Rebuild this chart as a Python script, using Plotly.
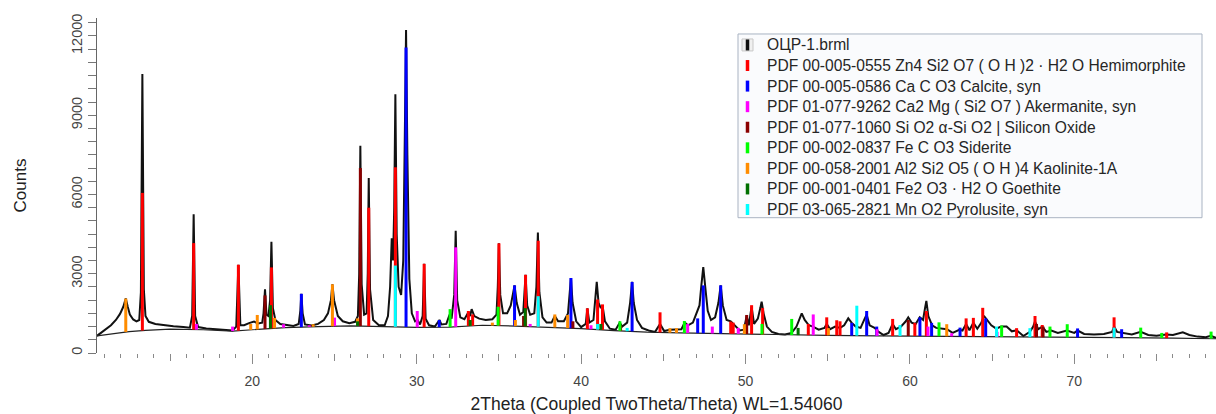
import numpy as np
import plotly.graph_objects as go

# ---------------- measured pattern (2Theta, Counts) ----------------
two_theta = [10.55, 10.8, 11.1, 11.4, 11.7, 11.95, 12.15, 12.3, 12.42, 12.55, 12.75, 12.95, 13.12, 13.22, 13.31, 13.4, 13.5,
             13.7, 14.1, 14.6, 15.2, 15.8, 16.2, 16.34, 16.43, 16.52, 16.7, 17.2, 17.8, 18.3, 18.8, 19.02, 19.15, 19.27,
             19.5, 19.8, 20.1, 20.35, 20.6, 20.68, 20.77, 20.86, 20.98, 21.08, 21.16, 21.25, 21.4, 21.7, 22.1, 22.5,
             22.82, 22.92, 22.98, 23.06, 23.2, 23.6, 24.0, 24.35, 24.6, 24.78, 24.87, 24.97, 25.2, 25.5, 25.9, 26.25,
             26.42, 26.5, 26.57, 26.65, 26.8, 26.95, 27.02, 27.08, 27.16, 27.35, 27.7, 28.05, 28.25, 28.38, 28.48,
             28.56, 28.63, 28.70, 28.78, 28.9, 29.05, 29.18, 29.27, 29.35, 29.43, 29.55, 29.7, 29.9, 30.05, 30.2,
             30.36, 30.45, 30.54, 30.75, 31.1, 31.3, 31.38, 31.5, 31.8, 32.0, 32.12, 32.28, 32.37, 32.46, 32.65, 32.9,
             33.15, 33.25, 33.34, 33.5, 33.8, 34.2, 34.6, 34.85, 34.93, 35.0, 35.08, 35.25, 35.5, 35.72, 35.85, 35.95,
             36.08, 36.28, 36.48, 36.56, 36.62, 36.72, 36.9, 37.15, 37.28, 37.37, 37.46, 37.65, 37.9, 38.2, 38.4,
             38.6, 38.95, 39.2, 39.3, 39.38, 39.48, 39.7, 40.0, 40.28, 40.38, 40.5, 40.75, 40.87, 40.95, 41.06, 41.2,
             41.3, 41.45, 41.75, 42.1, 42.35, 42.5, 42.8, 42.98, 43.1, 43.2, 43.4, 43.7, 44.1, 44.5, 44.8, 45.05,
             45.4, 45.8, 46.1, 46.3, 46.5, 46.8, 47.0, 47.2, 47.32, 47.43, 47.55, 47.7, 47.9, 48.15, 48.35, 48.49,
             48.62, 48.85, 49.1, 49.35, 49.65, 49.9, 50.07, 50.2, 50.37, 50.52, 50.75, 50.9, 50.98, 51.1, 51.3, 51.6,
             52.0, 52.4, 52.8, 53.1, 53.3, 53.42, 53.6, 53.85, 54.1, 54.45, 54.8, 54.94, 55.15, 55.45, 55.75, 56.0,
             56.25, 56.45, 56.7, 57.0, 57.25, 57.37, 57.55, 57.85, 58.1, 58.4, 58.7, 58.95, 59.15, 59.45, 59.75, 59.9,
             60.1, 60.35, 60.6, 60.8, 60.92, 61.0, 61.12, 61.35, 61.6, 61.9, 62.25, 62.6, 63.0, 63.2, 63.42, 63.62,
             63.86, 64.1, 64.35, 64.5, 64.7, 64.95, 65.25, 65.55, 65.88, 66.2, 66.5, 66.9, 67.3, 67.5, 67.61, 67.8,
             68.05, 68.3, 68.6, 69.0, 69.55, 70.0, 70.2, 70.6, 71.2, 71.8, 72.3, 72.42, 72.6, 73.0, 73.5, 74.04, 74.5,
             75.0, 75.6, 76.0, 76.6, 77.0, 77.5, 78.0, 78.3, 78.62]
counts = [650, 760, 900, 1050, 1250, 1480, 1750, 2060, 1750, 1450, 1270, 1200, 1250, 2300, 10560, 2400, 1400,
          1180, 1100, 1050, 1010, 980, 960, 1400, 5250, 1400, 980, 930, 890, 860, 850, 1000, 3340, 1050,
          1050, 1130, 1190, 1120, 1150, 1500, 2410, 1450, 1400, 2000, 4210, 1700, 1250, 1100, 1050, 1020,
          1100, 1600, 2240, 1500, 1080, 1040, 1100, 1250, 1500, 2000, 2600, 2000, 1400, 1200, 1130, 1180,
          1400, 3000, 7840, 2600, 1450, 1500, 3000, 6625, 2400, 1250, 1050, 1050, 1400, 2500, 4340,
          3500, 5500, 9790, 4500, 2500, 2200, 3500, 8000, 12230, 7500, 2800, 1500, 1200, 1250, 1080,
          1400, 3375, 1300, 1050, 1000, 1150, 1250, 1080, 1100, 1450, 1300, 2200, 4625, 2000, 1350, 1280,
          1550, 1400, 1660, 1400, 1300, 1250, 1280, 1450, 2500, 4150, 2200, 1500, 1500, 1800, 2300, 2560,
          1900, 1450, 1550, 2500, 2960, 1800, 1450, 1500, 2500, 4560, 2300, 1350, 1150, 1150, 1400,
          1200, 1200, 1500, 2300, 2840, 1900, 1200, 980, 1100, 1690, 1150, 1250, 2000, 2690, 1900, 1700,
          1800, 1200, 920, 880, 1150, 1000, 1150, 1900, 2690, 1900, 1250, 950, 850, 800, 1100, 830,
          880, 880, 900, 1150, 1050, 1150, 1450, 1800, 2600, 3250, 2500, 1600, 1250, 1350, 1900, 2560,
          1800, 1250, 1200, 1050, 850, 880, 1400, 1050, 1750, 1100, 1300, 1700, 1940, 1500, 1000, 800,
          720, 700, 760, 1000, 1300, 1500, 1250, 1050, 1000, 880, 950, 1100, 900, 1000, 950, 1050,
          1310, 1150, 1000, 950, 1300, 1450, 1050, 950, 800, 680, 760, 1100, 900, 1000, 1200, 1350,
          1150, 1100, 1350, 1250, 1700, 1975, 1400, 1050, 950, 930, 900, 760, 880, 850, 1100, 860,
          1150, 920, 1150, 1410, 1250, 1050, 920, 1000, 1000, 820, 860, 640, 800, 1000, 1200, 900,
          1000, 800, 850, 760, 850, 760, 850, 720, 700, 720, 800, 1000, 800, 760, 700, 800, 680,
          650, 700, 680, 780, 680, 620, 600, 650, 570]

# ---------------- fitted background ----------------
bg_theta = [10.55, 11.5, 12.5, 13.5, 15.0, 17.0, 18.8, 20.0, 22.0, 24.0, 26.0, 28.0, 30.0, 32.0, 34.0, 36.0,
            38.0, 40.0, 42.0, 44.0, 46.0, 48.0, 50.0, 52.0, 55.0, 58.0, 61.0, 64.0, 67.0, 70.0, 73.0, 76.0, 78.62]
bg_counts = [650, 740, 810, 860, 900, 880, 830, 880, 960, 1000, 1030, 1000, 970, 980, 1050, 1020,
             980, 920, 850, 790, 760, 740, 720, 680, 670, 650, 640, 620, 600, 590, 580, 560, 540]

# ---------------- legend labels ----------------
sample_label = "ОЦР-1.brml"
phase_labels = [
    "PDF 00-005-0555 Zn4 Si2 O7 ( O H )2 · H2 O Hemimorphite",
    "PDF 00-005-0586 Ca C O3 Calcite, syn",
    "PDF 01-077-9262 Ca2 Mg ( Si2 O7 ) Akermanite, syn",
    "PDF 01-077-1060 Si O2 α-Si O2 | Silicon Oxide",
    "PDF 00-002-0837 Fe C O3 Siderite",
    "PDF 00-058-2001 Al2 Si2 O5 ( O H )4 Kaolinite-1A",
    "PDF 00-001-0401 Fe2 O3 · H2 O Goethite",
    "PDF 03-065-2821 Mn O2 Pyrolusite, syn",
]

# ---------------- stick patterns (position, top counts) ----------------
hem_pos = [13.31, 16.43, 19.15, 21.16, 27.08, 28.70, 30.45, 33.14, 33.40, 35.00, 36.62, 37.39, 40.38, 41.00,
           41.30, 44.80, 49.10, 49.25, 50.37, 51.04, 53.82, 54.94, 55.55, 55.75, 58.95, 60.30, 61.00, 63.42,
           63.86, 64.43, 66.49, 67.61, 68.05, 72.42, 75.62]
hem_int = [6060, 4160, 3340, 3240, 5500, 7030, 3375, 1590, 1460, 4150, 2960, 4250, 1690, 2025,
           1840, 1540, 1190, 1150, 1810, 1700, 1100, 1350, 1240, 1200, 1290, 1140, 1590, 1310,
           1330, 1710, 940, 1400, 1060, 1350, 780]
cal_pos = [22.98, 29.35, 31.37, 35.95, 39.38, 43.10, 47.09, 47.43, 48.49, 56.46, 57.37, 57.98, 60.61,
           61.32, 63.05, 64.61, 70.20, 72.88]
cal_int = [2240, 11560, 1250, 2560, 2840, 2690, 1310, 2560, 2560, 1140, 1590, 1000, 1350,
           1140, 960, 1310, 930, 900]
ake_pos = [16.60, 18.80, 21.90, 23.46, 25.00, 30.03, 32.37, 36.90, 40.60, 46.48, 47.98, 49.56, 54.12,
           58.00, 61.10, 62.54, 65.30]
ake_int = [1100, 1000, 1090, 1050, 1340, 1590, 4000, 1100, 1050, 1100, 1000, 950, 1460,
           900, 1000, 750, 800]
qtz_pos = [20.77, 26.57, 36.50, 39.50, 42.40, 50.07, 59.90, 67.70, 68.10]
qtz_int = [2180, 7000, 1400, 1200, 1050, 1440, 1250, 1100, 1000]
sid_pos = [32.03, 34.95, 42.36, 46.28, 51.00, 52.81, 61.77, 65.58, 68.52, 69.57, 74.04, 75.32, 78.32]
sid_int = [1660, 1750, 1200, 1210, 1100, 1290, 1160, 1040, 1000, 1090, 960, 760, 810]
kao_pos = [12.30, 19.90, 20.30, 21.35, 23.70, 24.87, 26.40, 34.60, 36.00, 38.40, 39.18, 45.40, 45.80,
           49.93, 55.04, 62.24]
kao_int = [2060, 1100, 1440, 1330, 1090, 2600, 1310, 1150, 1250, 1460, 1440, 940, 940,
           1090, 940, 1090]
goe_pos = [21.10, 26.40, 33.25, 36.60, 41.20, 53.20]
goe_int = [1810, 1200, 1250, 1700, 1100, 950]
pyr_pos = [28.70, 37.39, 41.00, 42.80, 56.77, 59.40, 65.27, 67.30, 72.42]
pyr_int = [3310, 2150, 1100, 950, 1790, 1060, 1000, 940, 960]

y_tick_vals = [0, 3000, 6000, 9000, 12000]
y_tick_text = ["0", "3000", "6000", "9000", "12000"]
x_label_vals = [20, 30, 40, 50, 60, 70]

# ---------------- styling ----------------
phase_colors = ["#ff0000", "#0000ff", "#ff00ff", "#8b0000", "#00ff00", "#ff8c00", "#007000", "#00ffff"]
phase_data = [(hem_pos, hem_int), (cal_pos, cal_int), (ake_pos, ake_int), (qtz_pos, qtz_int),
              (sid_pos, sid_int), (kao_pos, kao_int), (goe_pos, goe_int), (pyr_pos, pyr_int)]

FONT = "Liberation Sans, Arial, sans-serif"
X_RANGE = [10.55, 78.62]
Y_RANGE = [0, 12680]

fig = go.Figure()
fig.add_trace(go.Scatter(x=two_theta, y=counts, mode="lines", name=sample_label,
                         line=dict(color="#111111", width=2), showlegend=False))
fig.add_trace(go.Scatter(x=bg_theta, y=bg_counts, mode="lines", name="Background",
                         line=dict(color="#222222", width=1.2), showlegend=False))

for label, (pos, inten), color in zip(phase_labels, phase_data, phase_colors):
    xs, ys = [], []
    for p, h in zip(pos, inten):
        base = float(np.interp(p, bg_theta, bg_counts))
        xs += [p, p, None]
        ys += [base, h, None]
    fig.add_trace(go.Scatter(x=xs, y=ys, mode="lines", name=label,
                             line=dict(color=color, width=3), showlegend=False))

# ---------------- manual legend box (pixel -> paper) ----------------
L, R, T, B = 97, 1216, 18, 353.5
W, H = R - L, B - T
def px(x):
    return (x - L) / W
def py(y):
    return (B - y) / H

shapes = [dict(type="rect", xref="paper", yref="paper", x0=px(738), x1=px(1202), y0=py(34), y1=py(218),
               line=dict(color="#a9b3c2", width=1), fillcolor="#fafbfd", layer="above")]
annotations = []
legend_texts = [sample_label] + phase_labels
legend_colors = ["#111111"] + phase_colors
row_y0, row_dy = 45, 20.6
for i, (txt, col) in enumerate(zip(legend_texts, legend_colors)):
    yc = row_y0 + i * row_dy
    if i == 0:
        shapes.append(dict(type="rect", xref="paper", yref="paper", x0=px(742), x1=px(753), y0=py(yc - 6),
                           y1=py(yc + 6), line=dict(color="#c8c8c8", width=1), fillcolor="#f0f0f0", layer="above"))
    shapes.append(dict(type="line", xref="paper", yref="paper", x0=px(747.5), x1=px(747.5), y0=py(yc - 5.5),
                       y1=py(yc + 5.5), line=dict(color=col, width=3.5), layer="above"))
    annotations.append(dict(xref="paper", yref="paper", x=px(765), y=py(yc), text=txt, showarrow=False,
                            xanchor="left", yanchor="middle", font=dict(family=FONT, size=15.6, color="#262626")))

fig.update_layout(
    width=1216, height=414,
    margin=dict(l=L, r=0, t=T, b=414 - B),
    paper_bgcolor="white", plot_bgcolor="white",
    font=dict(family=FONT, color="#333333"),
    showlegend=False,
    shapes=shapes, annotations=annotations,
    xaxis=dict(range=X_RANGE, tickmode="array", tickvals=list(range(15, 80, 5)), ticks="outside", ticklen=7,
               tickcolor="#8a8a8a", tickwidth=1, showticklabels=False, showgrid=False, zeroline=False,
               showline=False,
               minor=dict(dtick=1, tick0=0, ticks="outside", ticklen=4, tickcolor="#8a8a8a", showgrid=False)),
    xaxis2=dict(overlaying="x", anchor="y", side="bottom", range=X_RANGE, tickmode="array",
                tickvals=x_label_vals, ticks="outside", ticklen=10, tickcolor="#8a8a8a", ticklabelstandoff=5,
                tickfont=dict(family=FONT, size=14, color="#444444"), showgrid=False, zeroline=False,
                showline=False,
                title=dict(text="2Theta (Coupled TwoTheta/Theta) WL=1.54060", standoff=10,
                           font=dict(family=FONT, size=17.5, color="#222222"))),
    yaxis=dict(range=Y_RANGE, tickmode="array", tickvals=y_tick_vals, ticktext=y_tick_text, tickangle=-90,
               ticks="outside", ticklen=8,
               tickcolor="#777777", showline=True, linecolor="#666666", linewidth=1, showgrid=False,
               zeroline=False, tickfont=dict(family=FONT, size=14.5, color="#444444"),
               minor=dict(dtick=500, tick0=0, ticks="outside", ticklen=8, tickcolor="#777777", showgrid=False),
               title=dict(text="Counts", standoff=38, font=dict(family=FONT, size=17, color="#222222"))),
)
# invisible anchor trace so the secondary axis is laid out
fig.add_trace(go.Scatter(x=[X_RANGE[0]], y=[None], xaxis="x2", mode="markers", showlegend=False,
                         hoverinfo="skip"))

fig.write_html("out.html")
